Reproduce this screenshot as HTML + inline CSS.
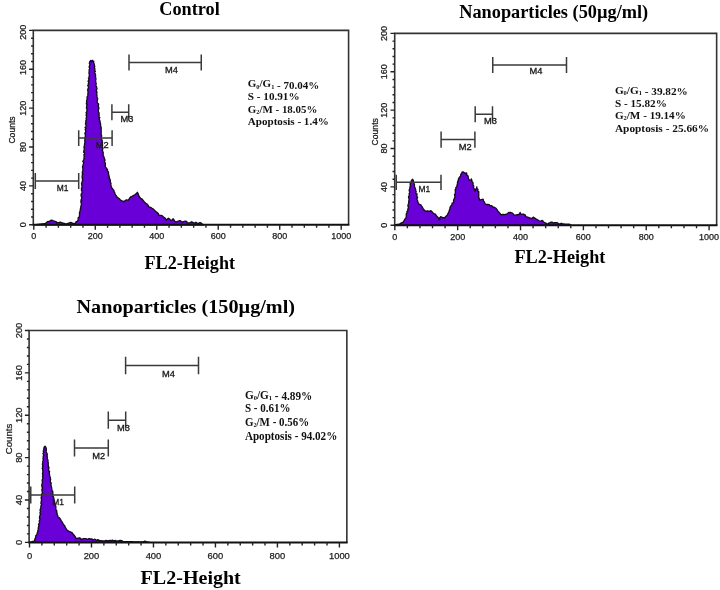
<!DOCTYPE html><html><head><meta charset="utf-8"><style>html,body{margin:0;padding:0;background:#fff;}svg{display:block;will-change:transform}</style></head><body>
<svg width="720" height="590" viewBox="0 0 720 590">
<rect width="720" height="590" fill="#fff"/>
<polygon points="33.8,224.8 34.92,224.68 36.04,224.56 37.17,224.43 38.29,224.31 39.41,224.19 40.53,224.07 41.66,223.94 42.78,223.82 43.9,223.7 44.72,223.75 46.2,222.7 46.7,222.3 48.1,221.4 49.7,221.8 50.15,220.65 51.6,220.1 53.5,220.9 55,221.4 56.55,221.95 56.9,223.2 58.4,222.6 60.4,222.2 62.3,223 64.2,223.3 66.1,224.1 68,223.3 69.52,222.8 70.7,222.4 71.79,222.84 73,223.3 73.93,223.65 75.6,223.2 75.91,221.98 77.2,221.4 78.3,219.5 78.12,217.95 78.99,217.45 79.5,215.7 79.53,214.09 79.56,213.99 79.5,212.39 80.2,211.1 80.25,210.03 80.41,208.8 80.8,207.3 80.93,206.05 81.55,204.53 81.2,203 80.82,201.34 81.84,200.72 80.99,200.14 81.51,198.74 81.92,197.08 81.35,196.65 81.14,195.38 81.14,194.16 81.92,193.34 82.15,191.67 81.42,190.11 81.87,189.41 81.38,188.75 81.96,187.37 82,186 81.72,184.54 81.53,183.51 81.9,182.45 82.09,181.79 82.77,179.84 82.24,178.68 82.62,178.5 82.12,177.09 82.3,175.04 82.92,174.28 82.26,173.24 82.4,172.05 82.72,170.91 82.95,169.6 82.9,168.7 82.49,167.06 82.58,166.44 82.96,165.64 83.21,164.38 83.85,162.47 82.77,161.42 83.29,160.8 83.79,159.39 84.13,157.83 84.05,156.94 84.18,155.58 83.8,155 84.44,154.2 84.54,152.87 83.65,152.23 84.04,150.06 84.32,149.44 84.23,147.92 83.89,147.32 84.37,145.66 84.5,145 84.55,143.95 85.01,142.32 84.75,140.86 85,139.7 84.72,138.21 85.04,136.98 85.43,136.57 85.35,134.62 85.1,133.99 84.83,133.5 85.68,131.82 85.67,130.33 85.16,129.59 85.83,128.61 84.99,127.44 86.13,126.47 86.21,125.63 85.42,123.68 85.8,122.8 85.92,122.24 85.76,121.06 86.4,119.42 86.19,118.82 86.44,116.89 86.57,115.63 86.06,115.42 86.7,113.51 86.09,112.74 86.81,111.69 86.98,110.61 86.91,109.33 86.41,107.98 86.63,106.97 86.7,105.8 87.19,104.4 86.34,103.83 86.67,102.32 86.56,101.69 86.83,99.92 87.55,99.05 86.99,98.38 87.23,96.62 87.98,96.01 87.8,94.23 87.96,93.52 88.06,92.12 88.08,91.51 87.69,90.21 87.9,88.9 88.32,88.37 88.58,86.99 87.72,85.65 88.47,83.9 88.29,83.71 88.91,82.65 88.02,81.14 89.03,80.07 88.46,78.21 89.27,78.06 89.04,76.35 89.33,75.76 89.3,74.37 88.9,72.88 89.2,72 89.11,70.63 89.38,69.2 89.7,68.32 89.1,67.04 89.46,66.08 90.01,64.52 89.41,63.59 89.43,62.97 89.9,61.5 90.8,60.5 91.5,62 92.3,60.3 93.2,61.5 93.8,61.2 93.5,61.99 94.2,64.15 94.3,65.2 94.78,66.44 94.28,68 94.86,68.68 94.74,70.4 95.36,71.56 94.41,72.01 94.84,72.99 95.35,74.03 95.6,75.83 95.36,76.79 95.84,78.16 95.88,79.74 95.5,80.4 95.84,82.11 95.71,82.51 96.25,83.83 95.72,85.15 96.04,85.62 96.59,87.2 96.86,88.37 96.93,89.21 96.18,90.63 96.95,92.12 96.92,92.42 96.73,93.44 96.82,95.67 96.9,96.51 97.2,97.4 97.46,98.1 97.65,99.15 97.16,100.88 97.21,102.46 97.68,103.19 98.44,103.69 98.59,104.73 98.23,106.6 98.8,107.37 98.87,108.85 98.42,109.4 98.24,110.76 98.49,111.89 99.16,113.02 98.9,114.3 99.22,114.94 98.81,116.93 99.88,117.65 99.02,118.74 99.58,120.09 99.99,121.2 100.27,122.97 100.6,124.11 100.53,124.72 100.6,126.2 101.11,127.07 101.23,128.39 101.06,129.57 101.18,130.51 101.19,132.11 101.03,133.07 101.25,134.04 101.26,135.26 101.75,135.93 101.18,137.84 101.21,138.93 101.8,139.7 102.23,140.48 102.2,141.64 102.61,142.69 101.81,143.62 102.65,144.95 102.29,146.98 102.91,147.81 102.84,148.81 102.28,150.14 102.78,151.31 103.1,152 103.24,153.67 102.98,154.94 103.34,155.55 104.04,157.3 104.3,157.9 104.72,159.64 105.11,160.14 104.36,160.96 105.2,163.09 105.31,163.53 105.39,165.06 105.14,166.27 105.6,167.2 106.24,167.93 107.6,169.8 107.4,171.11 108.49,172.12 108.45,174.01 108.9,175.1 108.83,176.23 109.46,177.19 109.2,178.63 110.01,179.13 110.35,180.79 110.2,181.7 110.96,183.36 110.84,184.61 110.95,185.86 111.5,187 111.67,187.72 112.84,189.26 113.5,189.7 114.15,191.49 114.81,192.86 114.8,193.6 115.61,194.84 116.1,195.47 116.8,196.9 118.06,197.7 118.19,197.92 119.5,198.9 120.47,200.17 122.1,200.9 124.1,201.6 125.22,200.44 126.1,200 128.1,200.2 129.28,198.98 130,197.6 130.72,196.88 132,196.3 133.94,195.22 134.7,195 135.28,194.36 136.5,193.5 137.3,192.3 138.36,194.16 138.6,195 139.15,196.42 139.48,197.06 140.6,198.3 142.03,199.15 142.6,199.6 143.54,201.02 144.6,202.2 145.88,203.26 147.2,204.2 148.33,205.67 148.17,206.31 149.2,206.9 151.08,207.68 151.9,208.2 153.2,209.05 154.5,210.2 155.48,211.25 156.5,212.1 157.3,212.6 158.43,213.76 158.5,215 160,215.3 161.09,215.44 162.22,215.79 163.1,216.8 164,217.41 165.3,218.3 165.68,219.23 166.5,220.2 167.04,219.24 168.4,218.3 169.9,219.4 170.7,220.2 172.41,219.99 173,218.7 173.74,219.69 174.85,221.22 175.3,221.8 176.5,221.8 177.6,221.4 178.98,220.97 179.9,220.5 181.06,221.23 182.2,222.2 183.64,221.67 185.2,221.2 186.7,221.36 187.01,222.84 188.6,222.9 190.16,222.59 191.7,221.8 193.6,222.9 195.25,222.88 195.9,222.3 197.13,223.34 198.2,223.3 200.1,222.5 201.15,223.07 201.9,223.77 202.8,224.4 203.5,224.8" fill="#6a00d8" stroke="#140a22" stroke-width="1.35" stroke-linejoin="round"/>
<path d="M33.3,224.8 V30.4 H348.58 V224.8" fill="none" stroke="#333" stroke-width="1.6"/>
<path d="M32.5,224.8 H349.38" fill="none" stroke="#111" stroke-width="2"/>
<path d="M29.1,224.8H33.3M31.1,217.02H33.3M31.1,209.25H33.3M31.1,201.47H33.3M31.1,193.7H33.3M29.1,185.92H33.3M31.1,178.14H33.3M31.1,170.37H33.3M31.1,162.59H33.3M31.1,154.82H33.3M29.1,147.04H33.3M31.1,139.26H33.3M31.1,131.49H33.3M31.1,123.71H33.3M31.1,115.94H33.3M29.1,108.16H33.3M31.1,100.38H33.3M31.1,92.61H33.3M31.1,84.83H33.3M31.1,77.06H33.3M29.1,69.28H33.3M31.1,61.5H33.3M31.1,53.73H33.3M31.1,45.95H33.3M31.1,38.18H33.3M29.1,30.4H33.3M33.8,224.8V229.8M46.1,224.8V227.8M58.39,224.8V227.8M70.69,224.8V227.8M82.98,224.8V227.8M95.28,224.8V229.8M107.58,224.8V227.8M119.87,224.8V227.8M132.17,224.8V227.8M144.46,224.8V227.8M156.76,224.8V229.8M169.06,224.8V227.8M181.35,224.8V227.8M193.65,224.8V227.8M205.94,224.8V227.8M218.24,224.8V229.8M230.54,224.8V227.8M242.83,224.8V227.8M255.13,224.8V227.8M267.42,224.8V227.8M279.72,224.8V229.8M292.02,224.8V227.8M304.31,224.8V227.8M316.61,224.8V227.8M328.9,224.8V227.8M341.2,224.8V229.8" stroke="#222" stroke-width="1.4" fill="none"/>
<text x="33.8" y="238.8" text-anchor="middle" font-family="Liberation Sans" font-size="9" fill="#1a1a1a" stroke="#1a1a1a" stroke-width="0.25">0</text>
<text x="95.28" y="238.8" text-anchor="middle" font-family="Liberation Sans" font-size="9" fill="#1a1a1a" stroke="#1a1a1a" stroke-width="0.25">200</text>
<text x="156.76" y="238.8" text-anchor="middle" font-family="Liberation Sans" font-size="9" fill="#1a1a1a" stroke="#1a1a1a" stroke-width="0.25">400</text>
<text x="218.24" y="238.8" text-anchor="middle" font-family="Liberation Sans" font-size="9" fill="#1a1a1a" stroke="#1a1a1a" stroke-width="0.25">600</text>
<text x="279.72" y="238.8" text-anchor="middle" font-family="Liberation Sans" font-size="9" fill="#1a1a1a" stroke="#1a1a1a" stroke-width="0.25">800</text>
<text x="341.2" y="238.8" text-anchor="middle" font-family="Liberation Sans" font-size="9" fill="#1a1a1a" stroke="#1a1a1a" stroke-width="0.25">1000</text>
<text transform="translate(25.9,224.8) rotate(-90)" x="0" y="0" text-anchor="middle" font-family="Liberation Sans" font-size="9" fill="#1a1a1a" stroke="#1a1a1a" stroke-width="0.25">0</text>
<text transform="translate(25.9,185.92) rotate(-90)" x="0" y="0" text-anchor="middle" font-family="Liberation Sans" font-size="9" fill="#1a1a1a" stroke="#1a1a1a" stroke-width="0.25">40</text>
<text transform="translate(25.9,147.04) rotate(-90)" x="0" y="0" text-anchor="middle" font-family="Liberation Sans" font-size="9" fill="#1a1a1a" stroke="#1a1a1a" stroke-width="0.25">80</text>
<text transform="translate(25.9,108.16) rotate(-90)" x="0" y="0" text-anchor="middle" font-family="Liberation Sans" font-size="9" fill="#1a1a1a" stroke="#1a1a1a" stroke-width="0.25">120</text>
<text transform="translate(25.9,67.58) rotate(-90)" x="0" y="0" text-anchor="middle" font-family="Liberation Sans" font-size="9" fill="#1a1a1a" stroke="#1a1a1a" stroke-width="0.25">160</text>
<text transform="translate(25.9,32.2) rotate(-90)" x="0" y="0" text-anchor="middle" font-family="Liberation Sans" font-size="9" fill="#1a1a1a" stroke="#1a1a1a" stroke-width="0.25">200</text>
<text transform="translate(15.3,130) rotate(-90)" text-anchor="middle" font-family="Liberation Sans" font-size="8.6" fill="#1a1a1a" stroke="#1a1a1a" stroke-width="0.25">Counts</text>
<path d="M35.3,181H78.7M35.3,173.05V188.95M78.7,173.05V188.95M78.7,138.1H112.1M78.7,130.3V145.9M112.1,130.3V145.9M111.9,112.3H128.7M111.9,104.25V120.35M128.7,104.25V120.35M129,62.5H201.25M129,54.6V70.4M201.25,54.6V70.4" stroke="#3a3a3a" stroke-width="1.5" fill="none"/>
<text x="56.7" y="191.1" font-family="Liberation Sans" font-size="8.8" fill="#1a1a1a" stroke="#1a1a1a" stroke-width="0.3" textLength="11.7" lengthAdjust="spacingAndGlyphs">M1</text>
<text x="95.7" y="148.1" font-family="Liberation Sans" font-size="8.8" fill="#1a1a1a" stroke="#1a1a1a" stroke-width="0.3" textLength="12.9" lengthAdjust="spacingAndGlyphs">M2</text>
<text x="120.5" y="122.2" font-family="Liberation Sans" font-size="8.8" fill="#1a1a1a" stroke="#1a1a1a" stroke-width="0.3" textLength="12.9" lengthAdjust="spacingAndGlyphs">M3</text>
<text x="165.05" y="72.5" font-family="Liberation Sans" font-size="8.8" fill="#1a1a1a" stroke="#1a1a1a" stroke-width="0.3" textLength="12.9" lengthAdjust="spacingAndGlyphs">M4</text>
<text x="247.8" y="87.3" font-family="Liberation Serif" font-weight="bold" font-size="11" fill="#111" textLength="71.4" lengthAdjust="spacingAndGlyphs">G<tspan font-size="6.38" dy="1.3">0</tspan><tspan dy="-1.3">/G</tspan><tspan font-size="6.38" dy="1.3">1</tspan><tspan dy="-1.3"></tspan><tspan> - 70.04%</tspan></text>
<text x="247.8" y="99.8" font-family="Liberation Serif" font-weight="bold" font-size="11" fill="#111" textLength="51.8" lengthAdjust="spacingAndGlyphs">S<tspan> - 10.91%</tspan></text>
<text x="247.8" y="112.6" font-family="Liberation Serif" font-weight="bold" font-size="11" fill="#111" textLength="69.6" lengthAdjust="spacingAndGlyphs">G<tspan font-size="6.38" dy="1.3">2</tspan><tspan dy="-1.3">/M</tspan><tspan> - 18.05%</tspan></text>
<text x="247.8" y="125.4" font-family="Liberation Serif" font-weight="bold" font-size="11" fill="#111" textLength="81" lengthAdjust="spacingAndGlyphs">Apoptosis<tspan> - 1.4%</tspan></text>
<polygon points="394.8,225.3 396,224.6 397.3,224.37 398.6,224.13 399.9,223.9 401.91,222.66 402.8,222.6 403.75,221.06 404.72,219.75 404.8,219.2 405.76,218.08 406.23,217.13 406.3,215.2 406.29,213.83 407.15,212.58 406.92,211.33 407.93,210.93 407.8,209.3 408.29,207.85 408.57,207.09 407.86,205.9 408.22,204.34 408.52,203.56 408.65,203.13 408.7,201.5 408.96,200.29 409.31,199.89 408.95,198.73 408.48,196.67 408.75,196.53 409.46,195.16 409.07,193.79 409.88,192.22 409.5,191.6 409.16,189.91 409.7,189.71 409.92,188.03 409.97,186.62 410.62,185.67 410.2,184.7 410.22,183.17 411.26,181.88 411.2,180.8 412.4,179.3 413.32,180.27 413.2,181.12 413.7,182.8 414.49,184.46 414.27,184.94 414.6,186.7 414.92,187.85 415.67,189.81 415.6,190.6 416.19,191.59 415.65,193.57 417.03,193.94 416.8,195.6 416.93,196.71 417.64,197.32 416.67,199.41 417.42,200.09 417.8,201.38 417.6,202.4 418.58,203.11 419.1,204.4 421,204.9 421.25,205.56 422.5,207.4 423.05,208.78 424,209.8 425.5,211.3 427.4,210.8 429.4,211.3 430.9,210.6 431.71,211.52 432.8,212.8 433.94,213.55 434.8,213.8 435.66,214.52 436.3,215.7 437.8,217.2 438.89,218.81 439.2,219.7 440.17,219.17 439.62,217.9 440.7,216.7 441.52,217.07 442.7,217.7 444.6,217.7 446.1,216.2 447.6,214.7 448.12,213.14 448.3,213.02 449.1,211.3 449.25,210.57 450.02,208.63 449.93,207.75 450.5,206.4 451.54,205.26 452.1,204.5 452.1,203.04 453.6,202.64 453.7,201.3 453.5,200.38 454.34,198.45 455,196.88 454.8,196 454.5,194.56 455.45,193.56 455.33,192.74 455.41,191.35 455.12,190.09 455.9,188.5 455.81,187.63 456.95,186.57 456.95,185.38 457.48,184.1 457.5,183.2 457.5,182.19 458.16,180.58 458.5,179.92 458.37,179.13 459.1,177.8 459.97,176.54 460.61,176.25 460.7,174.6 461.69,173.14 462.3,171.9 463.08,171.86 464.4,172.7 465.23,173.45 466.6,173 466.61,174.73 467.9,175.81 468.2,176.7 468.25,178.14 468.91,179.45 469.8,180.5 470.95,179.97 471.4,178.9 471.78,180.43 471.74,180.62 472.4,182.1 473.11,182.89 472.85,184.65 473.68,185.92 473.5,187.4 474.12,188.67 474.54,189.9 475.1,191.2 475.46,190.24 475.82,188.96 476.81,188.55 476.7,186.9 477.05,188.79 478,189.6 477.59,190.68 478.8,191.76 478.68,194.03 478.77,194.67 478.8,196 478.6,197.34 479.49,199.15 479.9,200.2 481.5,199.7 483.1,199.2 483.52,200.87 484.2,201.8 484.89,203.31 485.8,204.5 487.9,204.5 489.26,204.65 490,205.6 491.64,205.79 492.2,206.1 493.23,207.22 494.3,207.2 495.9,208.2 496.79,209.32 497.5,210.4 497.96,211.11 499.1,212.5 500.21,213.61 500.7,214.7 501.99,214.73 502.9,214.3 505,214.7 506.27,214.09 507.1,213.9 508.7,212.5 510.8,212.5 512.49,213.19 513.3,214 514.11,215.04 515.7,215.2 517.38,214.59 518.1,214.9 519.56,213.93 520.1,212.5 520.52,213.54 521.5,214.4 523.46,214.13 524.4,214.7 525.43,215.12 525.65,216.71 526.9,216.9 528.94,217.54 529.8,217.8 531.2,218.8 532.55,217.87 533.2,217.2 535.1,218.3 536.26,219.19 537.6,219.8 539.18,220.74 540,221.2 541.16,221 542.4,220.5 543.48,221.97 544.8,222.7 546.74,223.68 547.8,224 548.55,223.26 550.31,222.65 550.7,222.2 552.35,222.22 553.6,223.2 554.61,222.62 556.5,222.7 557.71,223.02 558.5,224 559.77,223.9 561.22,223.29 562.3,223.7 563.8,223.95 565.3,224.2 566.73,224.2 568.17,224.2 569.6,224.2 571.1,225.3" fill="#6a00d8" stroke="#140a22" stroke-width="1.35" stroke-linejoin="round"/>
<path d="M394.7,225.3 V33.4 H716.64 V225.3" fill="none" stroke="#333" stroke-width="1.6"/>
<path d="M393.9,225.3 H717.44" fill="none" stroke="#111" stroke-width="2"/>
<path d="M390.5,225.3H394.7M392.5,217.62H394.7M392.5,209.95H394.7M392.5,202.27H394.7M392.5,194.6H394.7M390.5,186.92H394.7M392.5,179.24H394.7M392.5,171.57H394.7M392.5,163.89H394.7M392.5,156.22H394.7M390.5,148.54H394.7M392.5,140.86H394.7M392.5,133.19H394.7M392.5,125.51H394.7M392.5,117.84H394.7M390.5,110.16H394.7M392.5,102.48H394.7M392.5,94.81H394.7M392.5,87.13H394.7M392.5,79.46H394.7M390.5,71.78H394.7M392.5,64.1H394.7M392.5,56.43H394.7M392.5,48.75H394.7M392.5,41.08H394.7M390.5,33.4H394.7M394.8,225.3V230.3M407.37,225.3V228.3M419.94,225.3V228.3M432.52,225.3V228.3M445.09,225.3V228.3M457.66,225.3V230.3M470.23,225.3V228.3M482.8,225.3V228.3M495.38,225.3V228.3M507.95,225.3V228.3M520.52,225.3V230.3M533.09,225.3V228.3M545.66,225.3V228.3M558.24,225.3V228.3M570.81,225.3V228.3M583.38,225.3V230.3M595.95,225.3V228.3M608.52,225.3V228.3M621.1,225.3V228.3M633.67,225.3V228.3M646.24,225.3V230.3M658.81,225.3V228.3M671.38,225.3V228.3M683.96,225.3V228.3M696.53,225.3V228.3M709.1,225.3V230.3" stroke="#222" stroke-width="1.4" fill="none"/>
<text x="394.8" y="240.2" text-anchor="middle" font-family="Liberation Sans" font-size="9" fill="#1a1a1a" stroke="#1a1a1a" stroke-width="0.25">0</text>
<text x="457.66" y="240.2" text-anchor="middle" font-family="Liberation Sans" font-size="9" fill="#1a1a1a" stroke="#1a1a1a" stroke-width="0.25">200</text>
<text x="520.52" y="240.2" text-anchor="middle" font-family="Liberation Sans" font-size="9" fill="#1a1a1a" stroke="#1a1a1a" stroke-width="0.25">400</text>
<text x="583.38" y="240.2" text-anchor="middle" font-family="Liberation Sans" font-size="9" fill="#1a1a1a" stroke="#1a1a1a" stroke-width="0.25">600</text>
<text x="646.24" y="240.2" text-anchor="middle" font-family="Liberation Sans" font-size="9" fill="#1a1a1a" stroke="#1a1a1a" stroke-width="0.25">800</text>
<text x="709.1" y="240.2" text-anchor="middle" font-family="Liberation Sans" font-size="9" fill="#1a1a1a" stroke="#1a1a1a" stroke-width="0.25">1000</text>
<text transform="translate(387.2,225.3) rotate(-90)" x="0" y="0" text-anchor="middle" font-family="Liberation Sans" font-size="9" fill="#1a1a1a" stroke="#1a1a1a" stroke-width="0.25">0</text>
<text transform="translate(387.2,186.92) rotate(-90)" x="0" y="0" text-anchor="middle" font-family="Liberation Sans" font-size="9" fill="#1a1a1a" stroke="#1a1a1a" stroke-width="0.25">40</text>
<text transform="translate(387.2,148.54) rotate(-90)" x="0" y="0" text-anchor="middle" font-family="Liberation Sans" font-size="9" fill="#1a1a1a" stroke="#1a1a1a" stroke-width="0.25">80</text>
<text transform="translate(387.2,110.16) rotate(-90)" x="0" y="0" text-anchor="middle" font-family="Liberation Sans" font-size="9" fill="#1a1a1a" stroke="#1a1a1a" stroke-width="0.25">120</text>
<text transform="translate(387.2,71.78) rotate(-90)" x="0" y="0" text-anchor="middle" font-family="Liberation Sans" font-size="9" fill="#1a1a1a" stroke="#1a1a1a" stroke-width="0.25">160</text>
<text transform="translate(387.2,33.4) rotate(-90)" x="0" y="0" text-anchor="middle" font-family="Liberation Sans" font-size="9" fill="#1a1a1a" stroke="#1a1a1a" stroke-width="0.25">200</text>
<text transform="translate(377.8,131.8) rotate(-90)" text-anchor="middle" font-family="Liberation Sans" font-size="8.6" fill="#1a1a1a" stroke="#1a1a1a" stroke-width="0.25">Counts</text>
<path d="M396.25,182.3H441M396.25,174.7V189.9M441,174.7V189.9M441.1,139.6H474.9M441.1,131.45V147.75M474.9,131.45V147.75M475.2,114.3H492.5M475.2,106.25V122.35M492.5,106.25V122.35M492.75,65H566.5M492.75,57V73M566.5,57V73" stroke="#3a3a3a" stroke-width="1.5" fill="none"/>
<text x="418.55" y="191.9" font-family="Liberation Sans" font-size="8.8" fill="#1a1a1a" stroke="#1a1a1a" stroke-width="0.3" textLength="11.7" lengthAdjust="spacingAndGlyphs">M1</text>
<text x="458.7" y="149.5" font-family="Liberation Sans" font-size="8.8" fill="#1a1a1a" stroke="#1a1a1a" stroke-width="0.3" textLength="12.9" lengthAdjust="spacingAndGlyphs">M2</text>
<text x="484.1" y="124.3" font-family="Liberation Sans" font-size="8.8" fill="#1a1a1a" stroke="#1a1a1a" stroke-width="0.3" textLength="12.9" lengthAdjust="spacingAndGlyphs">M3</text>
<text x="529.5" y="74.4" font-family="Liberation Sans" font-size="8.8" fill="#1a1a1a" stroke="#1a1a1a" stroke-width="0.3" textLength="12.9" lengthAdjust="spacingAndGlyphs">M4</text>
<text x="614.9" y="94" font-family="Liberation Serif" font-weight="bold" font-size="11" fill="#111" textLength="72.9" lengthAdjust="spacingAndGlyphs">G<tspan font-size="6.38" dy="1.3">0</tspan><tspan dy="-1.3">/G</tspan><tspan font-size="6.38" dy="1.3">1</tspan><tspan dy="-1.3"></tspan><tspan> - 39.82%</tspan></text>
<text x="614.9" y="106.5" font-family="Liberation Serif" font-weight="bold" font-size="11" fill="#111" textLength="52" lengthAdjust="spacingAndGlyphs">S<tspan> - 15.82%</tspan></text>
<text x="614.9" y="119.1" font-family="Liberation Serif" font-weight="bold" font-size="11" fill="#111" textLength="70.9" lengthAdjust="spacingAndGlyphs">G<tspan font-size="6.38" dy="1.3">2</tspan><tspan dy="-1.3">/M</tspan><tspan> - 19.14%</tspan></text>
<text x="614.9" y="131.6" font-family="Liberation Serif" font-weight="bold" font-size="11" fill="#111" textLength="94.2" lengthAdjust="spacingAndGlyphs">Apoptosis<tspan> - 25.66%</tspan></text>
<polygon points="29.5,542.4 30.2,542.1 31.5,541.8 32.8,541.5 34.1,541.2 35.22,539.5 34.66,539.27 35.8,537.4 35.75,535.84 36.63,535.01 37.24,533.78 37.1,533 37.91,531.58 37.74,531.12 38.1,529.91 38.39,527.66 38.4,527 39.02,525.89 38.49,524.19 39.3,523.44 39.57,522.45 39.2,520.9 39.93,519.78 39.8,518.63 39.45,517.85 39.69,516.44 40.1,514.9 40.76,513.93 39.9,512.99 40.65,511.07 40.03,510.34 40.12,509.66 40.8,508 40.89,506.91 40.86,505.96 41.56,504.43 40.99,503.64 40.99,502.54 41.37,501.23 41.4,500.2 41.71,498.93 41.11,498.2 41.53,496.22 41.8,495 41.75,494.15 42.48,492.28 42,490.9 41.9,489.28 42.52,488.24 42.12,487.32 41.88,486.2 41.74,484.68 42.18,484.46 42.33,482.61 42.41,481.3 42.2,480.7 42.15,479.96 42.82,478.39 42.78,477.3 42.45,476.27 43.07,475.33 42.5,474.17 42.76,472.59 42.99,472.02 42.7,470.5 42.88,469.92 42.21,468.28 43,466.98 42.49,466.29 42.85,464.68 42.42,464.41 42.84,462.28 42.72,461.33 43.55,460.13 42.89,458.93 43.2,458.3 43.24,456.79 43.16,456.27 43.92,455.23 42.93,453.52 43.98,451.95 43.27,451.35 43.7,450.2 43.81,448.9 44.2,447 45,446.2 45.8,447.2 46.31,448.66 46.3,450.2 46.14,451.03 46.31,451.99 46.93,453.26 47.34,455 46.48,455.98 47.28,456.59 47.3,458.3 47.45,458.92 47.95,460.07 47.96,462.43 48.38,462.71 48.17,463.78 48.3,465.4 48.28,467.04 49.01,467.21 48.66,469.17 48.58,470.56 49.61,471.46 49.3,472.6 49.28,474.18 49.6,474.54 49.46,475.66 50.28,477.24 50.25,478.77 50.73,479.17 50.3,480.7 50.42,482.31 51.07,482.88 51.17,483.81 50.81,484.79 51.3,486.17 51.69,488.21 51.9,488.8 51.73,490.14 52.84,491.47 52.68,492.95 52.9,493.9 52.63,495.99 53.5,497 53.92,498.97 53.9,500.2 54.62,501.02 54.03,502.41 54.88,504.63 55.2,505.4 55.91,506.44 55.78,507.99 55.65,509.41 56.6,510.27 56.77,511.51 56.5,512.3 57.12,513.22 57.1,514.25 57.8,515.7 58.12,517.31 59.5,517.9 59.86,518.33 60.48,519.42 61.3,520.9 62.08,522 63,523.5 63.46,524.57 64.7,525.7 65.25,527.02 66,528.7 67.3,530.4 69.1,531.3 70.8,532 72.03,532.52 72.5,533.5 73.8,534.8 75.1,536.5 75.8,538 76.4,538.6 78.1,538.2 79.9,537.8 81.2,539.5 82.8,538.9 83.3,538.6 85,538.6 86.7,538.9 87.25,539.49 88.92,538.66 89.55,538.74 91.1,539.1 92,538.84 92.81,540.04 94.86,539.16 95.6,539.8 96.68,540.36 97.81,539.68 98.71,540.26 100,540.6 101.61,540.74 102.18,540.84 102.8,540.95 104.83,540.98 105.4,540.56 106.1,540.36 107.8,540.9 108.49,540.78 110.33,540.44 111.07,540.88 112.36,540.08 113.3,540.6 114.93,540.78 115.31,540.44 116.9,541.34 117.8,540.9 118.9,540.68 120.47,540.31 121.7,540.6 123.3,541.7 124.46,541.71 125.62,541.72 126.78,541.74 127.94,541.75 129.09,541.76 130.25,541.77 131.41,541.78 132.57,541.79 133.73,541.81 134.89,541.82 136.05,541.83 137.21,541.84 138.36,541.85 139.52,541.86 140.68,541.88 141.84,541.89 143,541.9 145,541 146,541.5 147,542 148.5,542.2 150,542.4" fill="#6a00d8" stroke="#140a22" stroke-width="1.35" stroke-linejoin="round"/>
<path d="M29.1,542.4 V330.5 H346.84 V542.4" fill="none" stroke="#333" stroke-width="1.6"/>
<path d="M28.3,542.4 H347.64" fill="none" stroke="#111" stroke-width="2"/>
<path d="M24.9,542.4H29.1M26.9,533.92H29.1M26.9,525.45H29.1M26.9,516.97H29.1M26.9,508.5H29.1M24.9,500.02H29.1M26.9,491.54H29.1M26.9,483.07H29.1M26.9,474.59H29.1M26.9,466.12H29.1M24.9,457.64H29.1M26.9,449.16H29.1M26.9,440.69H29.1M26.9,432.21H29.1M26.9,423.74H29.1M24.9,415.26H29.1M26.9,406.78H29.1M26.9,398.31H29.1M26.9,389.83H29.1M26.9,381.36H29.1M24.9,372.88H29.1M26.9,364.4H29.1M26.9,355.93H29.1M26.9,347.45H29.1M26.9,338.98H29.1M24.9,330.5H29.1M29.5,542.4V547.4M41.9,542.4V545.4M54.29,542.4V545.4M66.69,542.4V545.4M79.08,542.4V545.4M91.48,542.4V547.4M103.88,542.4V545.4M116.27,542.4V545.4M128.67,542.4V545.4M141.06,542.4V545.4M153.46,542.4V547.4M165.86,542.4V545.4M178.25,542.4V545.4M190.65,542.4V545.4M203.04,542.4V545.4M215.44,542.4V547.4M227.84,542.4V545.4M240.23,542.4V545.4M252.63,542.4V545.4M265.02,542.4V545.4M277.42,542.4V547.4M289.82,542.4V545.4M302.21,542.4V545.4M314.61,542.4V545.4M327,542.4V545.4M339.4,542.4V547.4" stroke="#222" stroke-width="1.4" fill="none"/>
<text x="29.5" y="558.7" text-anchor="middle" font-family="Liberation Sans" font-size="9.4" fill="#1a1a1a" stroke="#1a1a1a" stroke-width="0.25">0</text>
<text x="91.48" y="558.7" text-anchor="middle" font-family="Liberation Sans" font-size="9.4" fill="#1a1a1a" stroke="#1a1a1a" stroke-width="0.25">200</text>
<text x="153.46" y="558.7" text-anchor="middle" font-family="Liberation Sans" font-size="9.4" fill="#1a1a1a" stroke="#1a1a1a" stroke-width="0.25">400</text>
<text x="215.44" y="558.7" text-anchor="middle" font-family="Liberation Sans" font-size="9.4" fill="#1a1a1a" stroke="#1a1a1a" stroke-width="0.25">600</text>
<text x="277.42" y="558.7" text-anchor="middle" font-family="Liberation Sans" font-size="9.4" fill="#1a1a1a" stroke="#1a1a1a" stroke-width="0.25">800</text>
<text x="339.4" y="558.7" text-anchor="middle" font-family="Liberation Sans" font-size="9.4" fill="#1a1a1a" stroke="#1a1a1a" stroke-width="0.25">1000</text>
<text transform="translate(21.8,542.4) rotate(-90)" x="0" y="0" text-anchor="middle" font-family="Liberation Sans" font-size="9.4" fill="#1a1a1a" stroke="#1a1a1a" stroke-width="0.25">0</text>
<text transform="translate(21.8,500.02) rotate(-90)" x="0" y="0" text-anchor="middle" font-family="Liberation Sans" font-size="9.4" fill="#1a1a1a" stroke="#1a1a1a" stroke-width="0.25">40</text>
<text transform="translate(21.8,457.64) rotate(-90)" x="0" y="0" text-anchor="middle" font-family="Liberation Sans" font-size="9.4" fill="#1a1a1a" stroke="#1a1a1a" stroke-width="0.25">80</text>
<text transform="translate(21.8,415.26) rotate(-90)" x="0" y="0" text-anchor="middle" font-family="Liberation Sans" font-size="9.4" fill="#1a1a1a" stroke="#1a1a1a" stroke-width="0.25">120</text>
<text transform="translate(21.8,372.88) rotate(-90)" x="0" y="0" text-anchor="middle" font-family="Liberation Sans" font-size="9.4" fill="#1a1a1a" stroke="#1a1a1a" stroke-width="0.25">160</text>
<text transform="translate(21.8,330.5) rotate(-90)" x="0" y="0" text-anchor="middle" font-family="Liberation Sans" font-size="9.4" fill="#1a1a1a" stroke="#1a1a1a" stroke-width="0.25">200</text>
<text transform="translate(12.2,439) rotate(-90)" text-anchor="middle" font-family="Liberation Sans" font-size="9.6" fill="#1a1a1a" stroke="#1a1a1a" stroke-width="0.25">Counts</text>
<path d="M30.75,495H74.7M30.75,486.5V503.5M74.7,486.5V503.5M74.5,448H108.3M74.5,439.4V456.6M108.3,439.4V456.6M108.3,420.2H125.7M108.3,411.6V428.8M125.7,411.6V428.8M125.6,365.6H198.5M125.6,356.85V374.35M198.5,356.85V374.35" stroke="#3a3a3a" stroke-width="1.5" fill="none"/>
<text x="52.3" y="505.4" font-family="Liberation Sans" font-size="8.8" fill="#1a1a1a" stroke="#1a1a1a" stroke-width="0.3" textLength="11.7" lengthAdjust="spacingAndGlyphs">M1</text>
<text x="92.3" y="458.9" font-family="Liberation Sans" font-size="8.8" fill="#1a1a1a" stroke="#1a1a1a" stroke-width="0.3" textLength="12.9" lengthAdjust="spacingAndGlyphs">M2</text>
<text x="117" y="431.4" font-family="Liberation Sans" font-size="8.8" fill="#1a1a1a" stroke="#1a1a1a" stroke-width="0.3" textLength="12.9" lengthAdjust="spacingAndGlyphs">M3</text>
<text x="162.05" y="376.5" font-family="Liberation Sans" font-size="8.8" fill="#1a1a1a" stroke="#1a1a1a" stroke-width="0.3" textLength="12.9" lengthAdjust="spacingAndGlyphs">M4</text>
<text x="244.9" y="398.8" font-family="Liberation Serif" font-weight="bold" font-size="12" fill="#111" textLength="67.4" lengthAdjust="spacingAndGlyphs">G<tspan font-size="6.96" dy="1.3">0</tspan><tspan dy="-1.3">/G</tspan><tspan font-size="6.96" dy="1.3">1</tspan><tspan dy="-1.3"></tspan><tspan> - 4.89%</tspan></text>
<text x="244.9" y="412.4" font-family="Liberation Serif" font-weight="bold" font-size="12" fill="#111" textLength="45.6" lengthAdjust="spacingAndGlyphs">S<tspan> - 0.61%</tspan></text>
<text x="244.9" y="426" font-family="Liberation Serif" font-weight="bold" font-size="12" fill="#111" textLength="64.2" lengthAdjust="spacingAndGlyphs">G<tspan font-size="6.96" dy="1.3">2</tspan><tspan dy="-1.3">/M</tspan><tspan> - 0.56%</tspan></text>
<text x="244.9" y="439.5" font-family="Liberation Serif" font-weight="bold" font-size="12" fill="#111" textLength="92.4" lengthAdjust="spacingAndGlyphs">Apoptosis<tspan> - 94.02%</tspan></text>
<text x="159.3" y="14.9" font-family="Liberation Serif" font-weight="bold" font-size="18" fill="#000" textLength="60.5" lengthAdjust="spacingAndGlyphs">Control</text>
<text x="459.2" y="17.7" font-family="Liberation Serif" font-weight="bold" font-size="18" fill="#000" textLength="189" lengthAdjust="spacingAndGlyphs">Nanoparticles (50µg/ml)</text>
<text x="76.5" y="313.2" font-family="Liberation Serif" font-weight="bold" font-size="19" fill="#000" textLength="218.5" lengthAdjust="spacingAndGlyphs">Nanoparticles (150µg/ml)</text>
<text x="144.5" y="268.8" font-family="Liberation Serif" font-weight="bold" font-size="17.8" fill="#000" textLength="90.5" lengthAdjust="spacingAndGlyphs">FL2-Height</text>
<text x="514.4" y="262.8" font-family="Liberation Serif" font-weight="bold" font-size="17.8" fill="#000" textLength="91" lengthAdjust="spacingAndGlyphs">FL2-Height</text>
<text x="140.6" y="583.9" font-family="Liberation Serif" font-weight="bold" font-size="19.2" fill="#000" textLength="100.2" lengthAdjust="spacingAndGlyphs">FL2-Height</text>
</svg></body></html>
